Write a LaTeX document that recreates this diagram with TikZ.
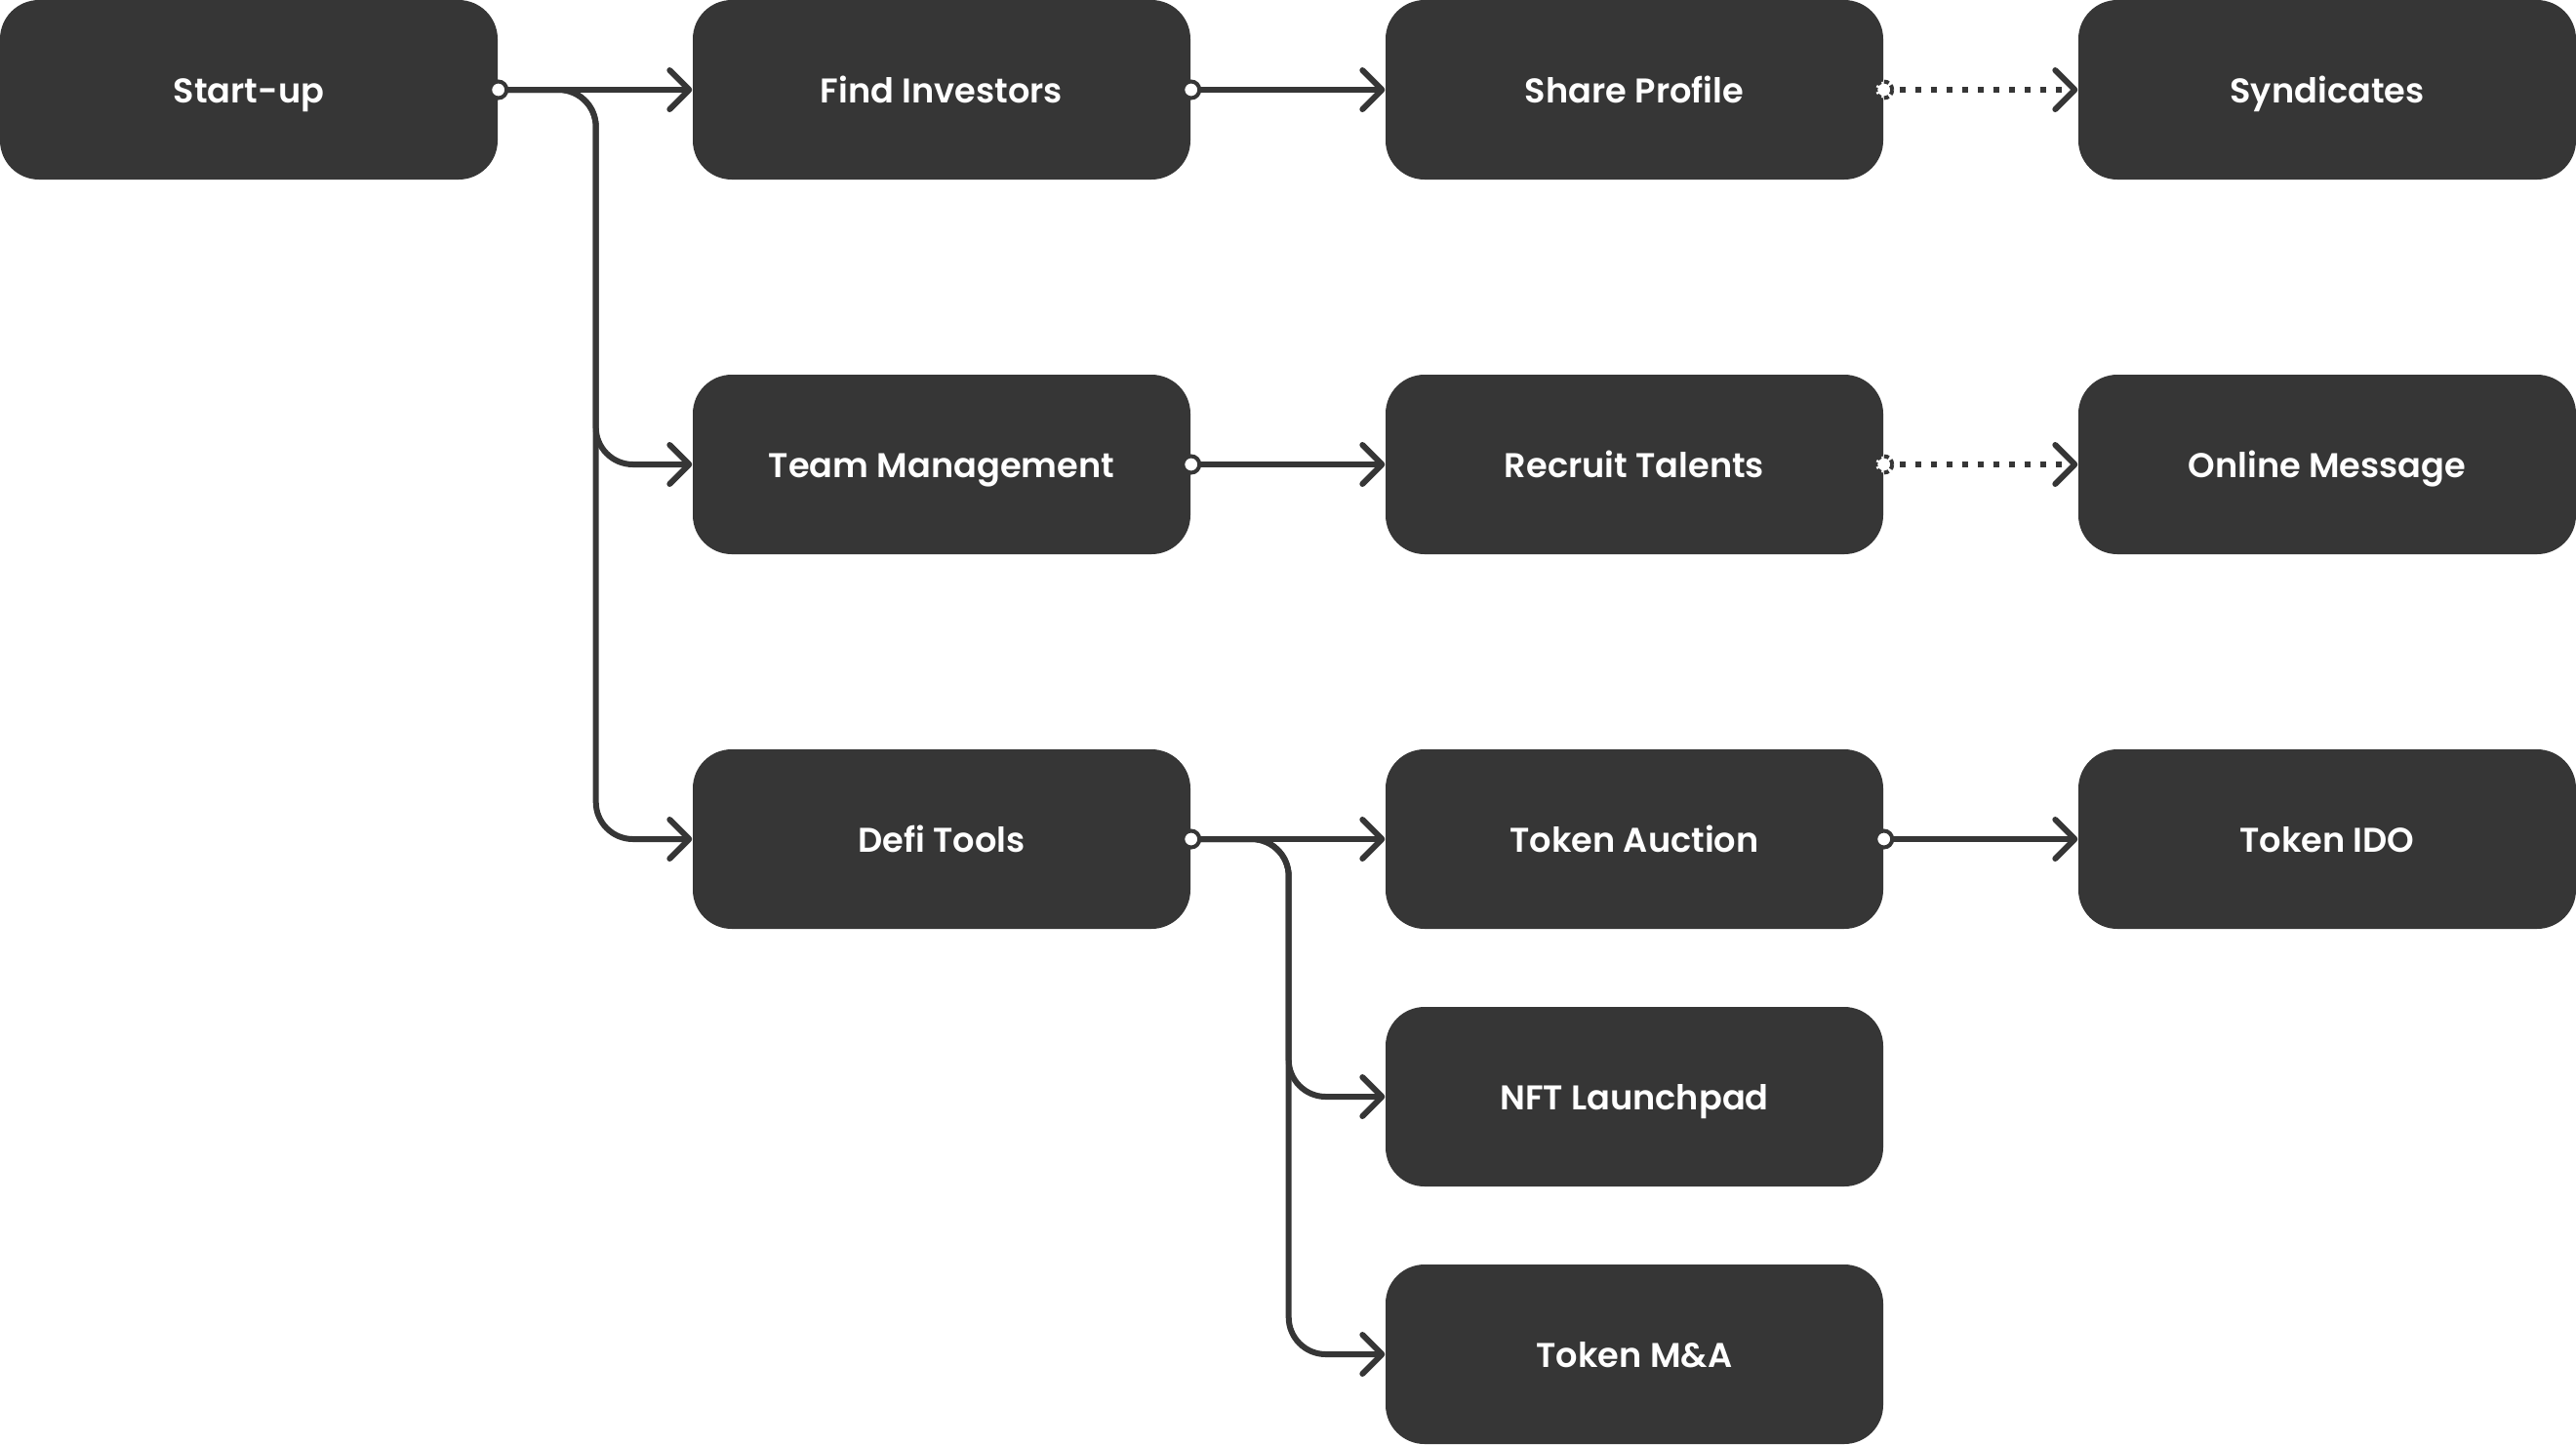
\documentclass[tikz,border=0pt]{standalone}
\usepackage{fontspec}
\setmainfont{Poppins}[UprightFont=* SemiBold]
\usetikzlibrary{arrows.meta}
\definecolor{dark}{HTML}{363636}
\tikzset{
  box/.style={rectangle, rounded corners=0.4cm, fill=dark, draw=none,
    minimum width=5.1cm, minimum height=1.84cm, text=white, inner sep=0pt,
    text height=8.2pt, text depth=0.4pt,
    font=\fontsize{10pt}{12pt}\selectfont},
  conn/.style={draw=dark, line width=0.06cm, rounded corners=0.38cm,
    -{Straight Barb[length=0.2cm,width=0.4cm,round]}},
  dotconn/.style={conn, dash pattern=on 0.06cm off 0.1cm},
  startdot/.style={fill=white, draw=dark, line width=0.04cm},
  startdotd/.style={startdot, dash pattern=on 0.05cm off 0.03cm},
}
\begin{document}
\begin{tikzpicture}
\useasboundingbox (0,0) rectangle (26.4,-14.8);
% columns 2.55, 9.65, 16.75, 23.85 ; rows -0.92, -4.76, -8.60, -11.24, -13.88
\node[box] (start)   at (2.55,-0.92) {Start-up};
\node[box] (find)    at (9.65,-0.92) {Find Investors};
\node[box] (share)   at (16.75,-0.92) {Share Profile};
\node[box] (synd)    at (23.85,-0.92) {Syndicates};
\node[box] (team)    at (9.65,-4.76) {Team Management};
\node[box] (recruit) at (16.75,-4.76) {Recruit Talents};
\node[box] (online)  at (23.85,-4.76) {Online Message};
\node[box] (defi)    at (9.65,-8.60) {Defi Tools};
\node[box] (auction) at (16.75,-8.60) {Token Auction};
\node[box] (ido)     at (23.85,-8.60) {Token IDO};
\node[box] (nft)     at (16.75,-11.24) {NFT Launchpad};
\node[box] (tma)     at (16.75,-13.88) {Token M\&A};

\draw[conn] (start.east) -- (find.west);
\draw[conn] (start.east) -- ++(1,0) |- (team.west);
\draw[conn] (start.east) -- ++(1,0) |- (defi.west);
\draw[conn] (find.east) -- (share.west);
\draw[dotconn] (share.east) -- (synd.west);
\draw[conn] (team.east) -- (recruit.west);
\draw[dotconn] (recruit.east) -- (online.west);
\draw[conn] (defi.east) -- (auction.west);
\draw[conn] (defi.east) -- ++(1,0) |- (nft.west);
\draw[conn] (defi.east) -- ++(1,0) |- (tma.west);
\draw[conn] (auction.east) -- (ido.west);

\draw[startdot] (start.east) circle (0.085cm);
\draw[startdot] (find.east) circle (0.085cm);
\draw[startdot] (team.east) circle (0.085cm);
\draw[startdot] (defi.east) circle (0.085cm);
\draw[startdot] (auction.east) circle (0.085cm);
\draw[startdotd] (share.east) circle (0.085cm);
\draw[startdotd] (recruit.east) circle (0.085cm);
\end{tikzpicture}
\end{document}
